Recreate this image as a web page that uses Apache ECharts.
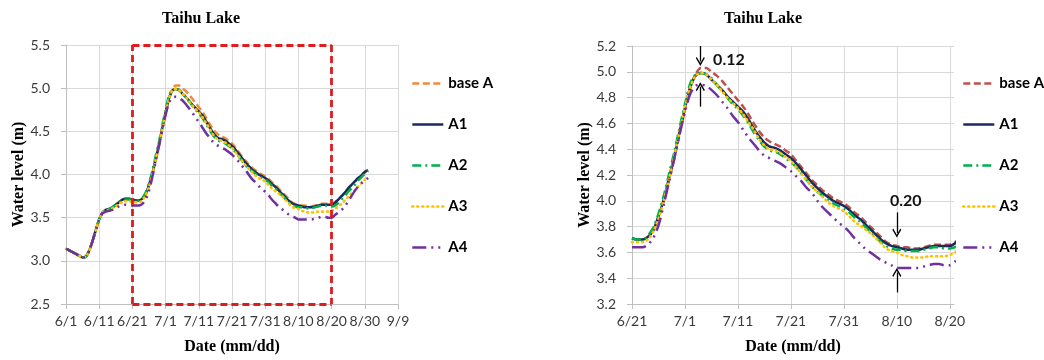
<!DOCTYPE html>
<html>
<head>
<meta charset="utf-8">
<script src="https://cdn.jsdelivr.net/npm/echarts@6/dist/echarts.min.js"></script>
<style>html,body{margin:0;padding:0;background:#fff}#c{width:1044px;height:360px}</style>
</head>
<body>
<div id="c"></div>
<script>
// Daily water level (m), index 0 = 6/1
const baseA = [3.14,3.12,3.10,3.08,3.06,3.04,3.05,3.12,3.23,3.36,
  3.48,3.56,3.59,3.60,3.62,3.65,3.68,3.71,3.72,3.72,
  3.71,3.70,3.70,3.72,3.77,3.87,4.00,4.16,4.33,4.52,
  4.71,4.88,4.98,5.03,5.03,5.00,4.97,4.93,4.88,4.83,
  4.78,4.73,4.67,4.60,4.54,4.49,4.46,4.44,4.42,4.39,
  4.36,4.31,4.26,4.21,4.16,4.12,4.08,4.05,4.02,4.00,
  3.98,3.95,3.91,3.88,3.84,3.80,3.76,3.72,3.68,3.66,
  3.65,3.64,3.64,3.63,3.63,3.64,3.65,3.66,3.66,3.66,
  3.66,3.68,3.71,3.75,3.79,3.84,3.88,3.92,3.96,3.99,4.03,4.05];
const a1 = [3.14,3.12,3.10,3.08,3.06,3.04,3.05,3.12,3.23,3.36,
  3.48,3.56,3.59,3.60,3.62,3.65,3.68,3.71,3.72,3.72,
  3.71,3.70,3.70,3.72,3.77,3.88,4.01,4.18,4.35,4.54,
  4.72,4.88,4.97,4.99,4.98,4.94,4.90,4.86,4.81,4.77,
  4.73,4.69,4.63,4.56,4.50,4.45,4.42,4.41,4.39,4.36,
  4.33,4.29,4.24,4.19,4.14,4.10,4.06,4.03,4.00,3.98,
  3.96,3.93,3.89,3.86,3.82,3.78,3.74,3.70,3.67,3.65,
  3.64,3.63,3.62,3.62,3.62,3.63,3.64,3.65,3.65,3.65,
  3.65,3.67,3.71,3.75,3.79,3.84,3.88,3.92,3.96,3.99,4.03,4.05];
const a2 = [3.14,3.12,3.10,3.08,3.06,3.04,3.05,3.12,3.23,3.36,
  3.48,3.56,3.59,3.60,3.62,3.65,3.68,3.70,3.71,3.71,
  3.71,3.70,3.70,3.73,3.79,3.90,4.04,4.21,4.38,4.57,
  4.75,4.91,4.98,4.99,4.98,4.95,4.90,4.85,4.80,4.75,
  4.71,4.66,4.60,4.53,4.47,4.42,4.39,4.38,4.36,4.33,
  4.30,4.26,4.21,4.16,4.11,4.07,4.04,4.01,3.98,3.96,
  3.94,3.91,3.87,3.84,3.80,3.76,3.72,3.68,3.65,3.63,
  3.62,3.62,3.61,3.61,3.61,3.62,3.63,3.64,3.64,3.63,
  3.63,3.64,3.67,3.71,3.75,3.80,3.84,3.88,3.93,3.97,4.01,4.04];
const a3 = [3.14,3.12,3.10,3.08,3.06,3.04,3.05,3.12,3.23,3.36,
  3.48,3.56,3.58,3.59,3.61,3.63,3.66,3.68,3.69,3.69,
  3.68,3.68,3.68,3.70,3.76,3.86,4.00,4.17,4.35,4.54,
  4.72,4.88,4.97,4.99,4.98,4.94,4.90,4.85,4.80,4.76,
  4.72,4.67,4.61,4.55,4.48,4.43,4.40,4.39,4.37,4.34,
  4.31,4.26,4.21,4.16,4.11,4.07,4.03,3.99,3.96,3.94,
  3.92,3.88,3.84,3.81,3.78,3.75,3.71,3.67,3.63,3.61,
  3.60,3.58,3.57,3.56,3.56,3.56,3.57,3.57,3.57,3.57,
  3.58,3.60,3.63,3.66,3.70,3.74,3.78,3.82,3.86,3.90,3.94,3.97];
const a4 = [3.14,3.12,3.10,3.08,3.06,3.04,3.05,3.12,3.23,3.36,
  3.48,3.55,3.57,3.58,3.59,3.61,3.63,3.64,3.65,3.65,
  3.64,3.64,3.64,3.66,3.71,3.81,3.97,4.15,4.33,4.52,
  4.69,4.83,4.89,4.90,4.89,4.86,4.82,4.77,4.72,4.66,
  4.61,4.55,4.49,4.44,4.39,4.35,4.33,4.31,4.29,4.26,
  4.23,4.19,4.15,4.10,4.06,4.00,3.95,3.91,3.87,3.83,
  3.80,3.76,3.71,3.67,3.63,3.60,3.57,3.54,3.52,3.50,
  3.48,3.48,3.48,3.48,3.48,3.49,3.50,3.51,3.51,3.50,
  3.50,3.53,3.56,3.59,3.63,3.69,3.75,3.81,3.86,3.90,3.93,3.96];

const seriesNames = ['base A', 'A1', 'A2', 'A3', 'A4'];
const leftTicks = ['6/1','6/11','6/21','7/1','7/11','7/21','7/31','8/10','8/20','8/30','9/9'];
const rightTicks = ['6/21','7/1','7/11','7/21','7/31','8/10','8/20'];
// zoom box on left chart (day index) and right-chart annotations
const boxDays = [20, 80];
const arrows = [ // [day, from, to]
  [32.9, 5.2, 5.08],
  [32.9, 4.73, 4.885],
  [70, 3.91, 3.75],
  [70, 3.29, 3.445]
];
const notes = [['0.12', 38.3, 5.09], ['0.20', 71.7, 4.0]];

const allData = [baseA, a1, a2, a3, a4];
const colorsLeft = ['#EE8A3E', '#1B2A5E', '#00B050', '#FFC000', '#7030A0'];
const colorsRight = ['#C0504D', '#1B2A5E', '#00B050', '#FFC000', '#7030A0'];
const dashes = [
  {type: [7, 3.5], width: 2.5},
  {type: 'solid', width: 2.5},
  {type: [9, 4, 2, 4], width: 2.5},
  {type: [1, 4], width: 2.6, cap: 'round'},
  {type: [14, 5, 2, 5, 2, 5], width: 2.5}
];

const chevron = 'path://M5,0 L10,7 L9,8 L5,2.6 L1,8 L0,7 Z';

const series = [];
allData.forEach((arr, k) => {
  series.push({
    type: 'line', name: seriesNames[k], xAxisIndex: 0, yAxisIndex: 0,
    data: arr.map((v, i) => [i, v]), symbol: 'none', smooth: 0.3,
    lineStyle: Object.assign({color: colorsLeft[k]}, dashes[k]),
    itemStyle: {color: colorsLeft[k]}, clip: false, animation: false
  });
});
series[1].markLine = {
  silent: true, symbol: ['none', 'none'], animation: false,
  lineStyle: {color: '#DD1C1C', width: 2.8, type: [7, 4]},
  label: {show: false},
  data: [
    [{coord: [boxDays[0], 2.5]}, {coord: [boxDays[0], 5.5]}],
    [{coord: [boxDays[0], 5.5]}, {coord: [boxDays[1], 5.5]}],
    [{coord: [boxDays[1], 5.5]}, {coord: [boxDays[1], 2.5]}],
    [{coord: [boxDays[0], 2.5]}, {coord: [boxDays[1], 2.5]}]
  ]
};
allData.forEach((arr, k) => {
  series.push({
    type: 'line', name: seriesNames[k], xAxisIndex: 1, yAxisIndex: 1,
    data: arr.map((v, i) => [i, v]).filter(p => p[0] >= 20 && p[0] <= 82),
    symbol: 'none', smooth: 0.3,
    lineStyle: Object.assign({color: colorsRight[k]}, dashes[k]),
    itemStyle: {color: colorsRight[k]}, animation: false
  });
});
const last = series[series.length - 1];
last.markLine = {
  silent: true, animation: false, symbol: ['none', chevron], symbolSize: 9,
  lineStyle: {color: '#000', width: 1.3, type: 'solid'},
  label: {show: false},
  data: arrows.map(a => [{coord: [a[0], a[1]]}, {coord: [a[0], a[2]]}])
};
last.markPoint = {
  silent: true, animation: false, symbol: 'rect', symbolSize: 1,
  itemStyle: {color: 'rgba(0,0,0,0)'},
  label: {show: true, position: 'inside', formatter: p => p.name,
    fontFamily: 'Lato', fontWeight: 'bold', fontSize: 16, color: '#111'},
  data: notes.map(n => ({name: n[0], coord: [n[1], n[2]]}))
};

const axisCommonX = {
  type: 'value', interval: 10,
  axisLine: {show: true, lineStyle: {color: '#BFBFBF', width: 1}},
  axisTick: {show: true, length: 5, lineStyle: {color: '#BFBFBF'}},
  splitLine: {show: true, lineStyle: {color: '#D9D9D9', width: 1}},
  axisLabel: {fontFamily: 'Lato', fontSize: 14, color: '#3A3A3A', margin: 10},
  name: 'Date (mm/dd)', nameLocation: 'middle', nameGap: 35,
  nameTextStyle: {fontFamily: 'Liberation Serif', fontWeight: 'bold', fontSize: 16, color: '#000'}
};
const axisCommonY = {
  type: 'value',
  axisLine: {show: true, lineStyle: {color: '#BFBFBF', width: 1}},
  axisTick: {show: true, length: 5, lineStyle: {color: '#BFBFBF'}},
  splitLine: {show: true, lineStyle: {color: '#D9D9D9', width: 1}},
  axisLabel: {fontFamily: 'Lato', fontSize: 14, color: '#3A3A3A', margin: 16, formatter: v => v.toFixed(1)},
  name: 'Water level (m)', nameLocation: 'middle', nameRotate: 90, nameGap: 39,
  nameTextStyle: {fontFamily: 'Liberation Serif', fontWeight: 'bold', fontSize: 16, color: '#000'}
};

const legendText = {fontFamily: 'Lato', fontWeight: 'bold', fontSize: 15, color: '#000'};
const legendItems = colors => seriesNames.map((n, k) => ({
  name: n,
  itemStyle: {color: colors[k], opacity: 0, borderWidth: 0},
  lineStyle: Object.assign({color: colors[k]}, dashes[k])
}));
const titleStyle = {fontFamily: 'Liberation Serif', fontWeight: 'bold', fontSize: 16, color: '#000'};
const option = {
  animation: false,
  backgroundColor: '#fff',
  title: [
    {text: 'Taihu Lake', left: 157, top: 6, textStyle: titleStyle},
    {text: 'Taihu Lake', left: 719, top: 6, textStyle: titleStyle}
  ],
  legend: [
    {orient: 'vertical', left: 406, top: 71, itemWidth: 31, itemHeight: 14, itemGap: 26,
     selectedMode: false, textStyle: legendText, data: legendItems(colorsLeft)},
    {orient: 'vertical', left: 957, top: 71, itemWidth: 31, itemHeight: 14, itemGap: 26,
     selectedMode: false, textStyle: legendText, data: legendItems(colorsRight)}
  ],
  grid: [
    {left: 66, top: 45, width: 332, height: 260},
    {left: 632, top: 46, width: 322, height: 259}
  ],
  xAxis: [
    Object.assign({}, axisCommonX, {gridIndex: 0, min: 0, max: 100,
      axisLabel: Object.assign({}, axisCommonX.axisLabel, {formatter: v => leftTicks[Math.round(v / 10)] || ''})}),
    Object.assign({}, axisCommonX, {gridIndex: 1, min: 20, max: 80.8,
      splitLine: Object.assign({}, axisCommonX.splitLine, {showMaxLine: false}),
      axisLabel: Object.assign({}, axisCommonX.axisLabel, {showMaxLabel: false,
        formatter: v => (Math.abs(v % 10) < 1e-6 ? (rightTicks[Math.round((v - 20) / 10)] || '') : '')})})
  ],
  yAxis: [
    Object.assign({}, axisCommonY, {gridIndex: 0, min: 2.5, max: 5.5, interval: 0.5}),
    Object.assign({}, axisCommonY, {gridIndex: 1, min: 3.2, max: 5.2, interval: 0.2})
  ],
  series: series
};
const chart = echarts.init(document.getElementById('c'), null, {renderer: 'canvas'});
chart.setOption(option);
</script>
</body>
</html>
